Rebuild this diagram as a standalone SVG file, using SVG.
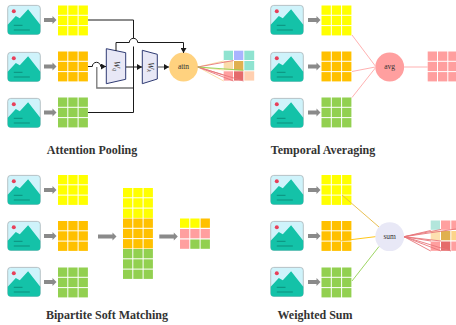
<svg xmlns="http://www.w3.org/2000/svg" width="456" height="325" viewBox="0 0 456 325">
<style>
.t{font-family:"Liberation Serif","Times New Roman",serif;font-weight:bold;font-size:12px;fill:#333;text-anchor:middle}
.n{font-family:"Liberation Serif","Times New Roman",serif;font-size:7.5px;fill:#333;text-anchor:middle}
.w{font-family:"Liberation Serif","Times New Roman",serif;font-style:italic;font-size:8.5px;fill:#333;text-anchor:middle}
.y{fill:#ffff00}.o{fill:#ffc000}.g{fill:#92d050}.p{fill:#ff9f9f}
.k{fill:none;stroke:#1a1a1a;stroke-width:1}
.a{fill:none;stroke:#777;stroke-width:1.3}
.tr{fill:#e8e8f6;stroke:#2f3b73;stroke-width:1}
.f{fill:none;stroke-width:.9}
</style>
<defs>
<g id="icon">
<rect x="0.4" y="0.4" width="32.6" height="29" rx="3" fill="#cff3fb" stroke="#a8b4b8" stroke-width=".8"/>
<path d="M0.4 19.7L8.5 11L12.5 13.3L20.8 4.3L33 19.7V26.4a3 3 0 0 1-3 3H3.4a3 3 0 0 1-3-3Z" fill="#14c2a8"/>
<circle cx="6.5" cy="6.3" r="2" fill="#e8405a"/>
<path d="M6.5 20.3H15.2M6.5 25H22.5" stroke="#0c8f7c" stroke-width="1"/>
</g>
<g id="cells">
<rect x="0" y="0" width="9.3" height="9.3"/><rect x="10.3" y="0" width="9.3" height="9.3"/><rect x="20.6" y="0" width="9.3" height="9.3"/>
<rect x="0" y="10.3" width="9.3" height="9.3"/><rect x="10.3" y="10.3" width="9.3" height="9.3"/><rect x="20.6" y="10.3" width="9.3" height="9.3"/>
<rect x="0" y="20.6" width="9.3" height="9.3"/><rect x="10.3" y="20.6" width="9.3" height="9.3"/><rect x="20.6" y="20.6" width="9.3" height="9.3"/>
</g>
<path id="arr" d="M0 -2H8.5V-4L12.5 0L8.5 4V2H0Z" fill="#8a8a8a"/>
<path id="arrL" d="M0 -2H14.5V-4L18.5 0L14.5 4V2H0Z" fill="#8a8a8a"/>
<marker id="h" markerUnits="userSpaceOnUse" markerWidth="6" markerHeight="6" refX="5" refY="3" orient="auto"><path d="M0 0L5 3L0 6Z" fill="#1a1a1a"/></marker>
</defs>

<g id="attention-pooling">
<g id="ap-frames">
<use href="#icon" x="7.3" y="5"/><use href="#arr" x="44" y="20"/><use href="#cells" class="y" x="58" y="5.5"/>
<use href="#icon" x="7.3" y="52"/><use href="#arr" x="44" y="66.5"/><use href="#cells" class="o" x="58" y="51.5"/>
<use href="#icon" x="7.3" y="98"/><use href="#arr" x="44" y="112.5"/><use href="#cells" class="g" x="58" y="97.5"/>
</g>
<g id="wq"><path class="tr" d="M106.3 48.7L125.7 52.7V79.3L106.3 83.7Z"/><text class="w" transform="translate(113.5,66) rotate(90)">W<tspan font-size="6" dy="1">q</tspan></text></g>
<g id="wk"><path class="tr" d="M142.3 50.3L157.3 54.3V79L142.3 83.7Z"/><text class="w" transform="translate(147.5,67) rotate(90)">W<tspan font-size="6" dy="1">k</tspan></text></g>
<g id="attn"><circle cx="183.5" cy="67" r="14.4" fill="#ffd27f"/><text class="n" x="183.5" y="69.3">attn</text></g>
<g id="attn-out">
<rect x="223.7" y="50.7" width="9.3" height="9.3" fill="#8fe3d0"/><rect x="234" y="50.7" width="9.3" height="9.3" fill="#a9b4ff"/><rect x="244.3" y="50.7" width="9.9" height="9.3" fill="#8fe3d0"/>
<rect x="223.7" y="61" width="9.3" height="9.3" fill="#fbdcaa"/><rect x="234" y="61" width="9.3" height="9.3" fill="#e0b04f"/><rect x="244.3" y="61" width="9.9" height="9.3" fill="#8fe3d0"/>
<rect x="223.7" y="71.3" width="9.3" height="9.3" fill="#ff9f9f"/><rect x="234" y="71.3" width="9.3" height="9.3" fill="#e56b6b"/><rect x="244.3" y="71.3" width="9.9" height="9.3" fill="#ffcfb0"/>
</g>
<text class="t" x="92" y="154">Attention Pooling</text>
</g>

<g id="temporal-averaging">
<g id="ta-frames">
<use href="#icon" x="270.3" y="5"/><use href="#arr" x="308" y="20"/><use href="#cells" class="y" x="321.5" y="5.5"/>
<use href="#icon" x="270.3" y="52"/><use href="#arr" x="308" y="66.5"/><use href="#cells" class="o" x="321.5" y="51.5"/>
<use href="#icon" x="270.3" y="98"/><use href="#arr" x="308" y="112.5"/><use href="#cells" class="g" x="321.5" y="97.5"/>
</g>
<g id="avg"><circle cx="389.7" cy="67" r="14.4" fill="#ff9f9f"/><text class="n" x="389.7" y="69.3">avg</text></g>
<g id="avg-out"><use href="#cells" class="p" x="427.7" y="51.5"/></g>
<text class="t" x="323" y="154">Temporal Averaging</text>
</g>

<g id="bipartite-soft-matching">
<g id="bs-frames">
<use href="#icon" x="7.3" y="175"/><use href="#arr" x="44" y="190"/><use href="#cells" class="y" x="58" y="175"/>
<use href="#icon" x="7.3" y="221"/><use href="#arr" x="44" y="236"/><use href="#cells" class="o" x="58" y="221"/>
<use href="#icon" x="7.3" y="267"/><use href="#arr" x="44" y="282"/><use href="#cells" class="g" x="58" y="267.5"/>
</g>
<use href="#arrL" x="98" y="236.5"/>
<g id="bs-stack"><use href="#cells" class="y" x="123" y="188"/><use href="#cells" class="o" x="123" y="218.5"/><use href="#cells" class="g" x="123" y="249"/></g>
<use href="#arrL" x="159.3" y="236.5"/>
<g id="bs-out">
<rect x="180" y="218.5" width="9.3" height="9.3" fill="#ffff00"/><rect x="190.3" y="218.5" width="9.3" height="9.3" fill="#ffff00"/><rect x="200.6" y="218.5" width="9.3" height="9.3" fill="#ffc000"/>
<rect x="180" y="229" width="9.3" height="9.3" fill="#ff9f9f"/><rect x="190.3" y="229" width="9.3" height="9.3" fill="#ff9f9f"/><rect x="200.6" y="229" width="9.3" height="9.3" fill="#ff9f9f"/>
<rect x="180" y="239.5" width="9.3" height="9.3" fill="#ff9f9f"/><rect x="190.3" y="239.5" width="9.3" height="9.3" fill="#92d050"/><rect x="200.6" y="239.5" width="9.3" height="9.3" fill="#92d050"/>
</g>
<text class="t" x="107" y="319">Bipartite Soft Matching</text>
</g>

<g id="weighted-sum">
<g id="ws-frames">
<use href="#icon" x="270.3" y="175"/><use href="#arr" x="308" y="190"/><use href="#cells" class="y" x="321.5" y="175"/>
<use href="#icon" x="270.3" y="221"/><use href="#arr" x="308" y="236"/><use href="#cells" class="o" x="321.5" y="221"/>
<use href="#icon" x="270.3" y="267"/><use href="#arr" x="308" y="282"/><use href="#cells" class="g" x="321.5" y="267.5"/>
</g>
<g id="sum"><circle cx="389.7" cy="236.7" r="14.4" fill="#e8e8f6"/><text class="n" x="389.7" y="239">sum</text></g>
<g id="sum-out">
<rect x="430.7" y="220.5" width="9.3" height="9.3" fill="#b3e6dc"/><rect x="441" y="220.5" width="9.3" height="9.3" fill="#ff9f9f"/><rect x="451.3" y="220.5" width="4.7" height="9.3" fill="#ff9f9f"/>
<rect x="430.7" y="231" width="9.3" height="9.3" fill="#fde0b0"/><rect x="441" y="231" width="9.3" height="9.3" fill="#e0b04f"/><rect x="451.3" y="231" width="4.7" height="9.3" fill="#fdd48a"/>
<rect x="430.7" y="241.5" width="9.3" height="9.3" fill="#ff9f9f"/><rect x="441" y="241.5" width="9.3" height="9.3" fill="#e56b6b"/><rect x="451.3" y="241.5" width="4.7" height="9.3" fill="#ff9f9f"/>
</g>
<text class="t" x="315" y="319">Weighted Sum</text>
</g>

<g id="connectors">
<path class="a" d="M96.8 67V88H133.5"/>
<path class="k" d="M88 20H133.5V38.5M133.5 46.5V112.5H88"/>
<path class="k" marker-end="url(#h)" d="M88 66.5H92.3A4.2 4.2 0 0 1 100.7 66.5H106"/>
<path class="k" marker-end="url(#h)" d="M116 51V42.5H129.3A4.2 4.2 0 0 1 137.7 42.5H183.5V53"/>
<path class="k" marker-end="url(#h)" d="M126 67H142"/>
<path class="a" marker-end="url(#h)" d="M157.3 67H169"/>
<g class="f">
<path stroke="#fbd9a0" d="M197.8 67L223.7 61M197.8 67L223.7 70M197.8 67L223.7 81"/>
<path stroke="#e8767a" d="M197.8 67L233.5 60.5M197.8 67L233.5 81M197.8 67L243.5 81M197.8 67L223.5 75"/>
<path stroke="#92d050" d="M197.8 67L243.5 70.3"/>
</g>
<g fill="none" stroke="#ffa8a8" stroke-width=".9"><path d="M352 35L375.3 66M352 71.5L375.3 67M352 97.5L375.3 68M404.1 67H427.7"/></g>
<path fill="none" stroke="#e5b83f" stroke-width=".9" d="M342 195L379 227"/>
<path fill="none" stroke="#ffc000" stroke-width=".9" d="M340 241L375.3 236.7"/>
<path fill="none" stroke="#92d050" stroke-width=".9" d="M352 281L379 246.5"/>
<g class="f" stroke="#e8767a">
<path d="M404 236.7L430.7 230.5M404 236.7L441 229.5M404 236.7L456 229M404 236.7L441 241M404 236.7L430.7 251M404 236.7L441 251M404 236.7L451 251M404 236.7L431 241"/>
</g>
</g>
</svg>
